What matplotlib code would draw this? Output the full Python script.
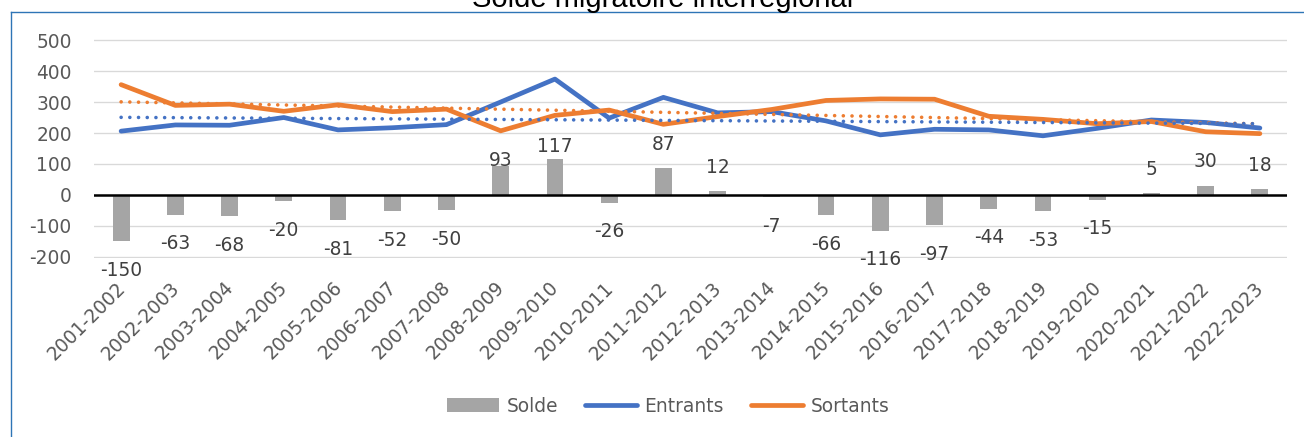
import matplotlib
matplotlib.use("Agg")
import matplotlib.pyplot as plt
import matplotlib.transforms as mtransforms
from matplotlib.lines import Line2D
from matplotlib.patches import Patch
import numpy as np

plt.rcParams['font.family'] = ['DejaVu Sans']

title = "Solde migratoire interrégional"
categories = ["2001-2002", "2002-2003", "2003-2004", "2004-2005", "2005-2006",
              "2006-2007", "2007-2008", "2008-2009", "2009-2010", "2010-2011",
              "2011-2012", "2012-2013", "2013-2014", "2014-2015", "2015-2016",
              "2016-2017", "2017-2018", "2018-2019", "2019-2020", "2020-2021",
              "2021-2022", "2022-2023"]
solde = [-150, -63, -68, -20, -81, -52, -50, 93, 117, -26, 87, 12, -7, -66,
         -116, -97, -44, -53, -15, 5, 30, 18]
entrants = [206, 226, 225, 250, 210, 217, 227, 300, 374, 248, 315, 265, 269,
            239, 194, 212, 210, 191, 215, 242, 234, 216]
sortants = [356, 289, 293, 270, 291, 269, 277, 207, 257, 274, 228, 253, 276,
            305, 310, 309, 254, 244, 230, 237, 204, 198]
yticks = [-200, -100, 0, 100, 200, 300, 400, 500]
legend_labels = ["Solde", "Entrants", "Sortants"]

# label shifts (points) for manually placed labels in the original
label_shift = {"2008-2009": -13.3, "2009-2010": -8.3}

GREY = "#A5A5A5"
BLUE = "#4472C4"
ORANGE = "#ED7D31"
TXT = "#595959"
FS = 13.4

W, H = 1304, 437
fig = plt.figure(figsize=(W / 100, H / 100), dpi=100)
ax = fig.add_axes([94 / W, (H - 257.6) / H, (1287 - 94) / W, (257.6 - 39.4) / H])

x = np.arange(len(categories))

ax.bar(x, solde, width=0.31, color=GREY, zorder=2)
ax.axhline(0, color="black", lw=1.8, zorder=2.5)
ax.plot(x, entrants, color=BLUE, lw=3.4, solid_capstyle="round",
        solid_joinstyle="round", zorder=3)
ax.plot(x, sortants, color=ORANGE, lw=3.4, solid_capstyle="round",
        solid_joinstyle="round", zorder=3)

for series, col in ((sortants, ORANGE), (entrants, BLUE)):
    coef = np.polyfit(x, series, 1)
    ax.plot(x, np.polyval(coef, x), color=col, lw=2.6,
            linestyle=(0, (0.01, 2.4)), dash_capstyle="round", zorder=4)

for xi, v, cat in zip(x, solde, categories):
    shift = label_shift.get(cat, 0)
    if v >= 0:
        ax.annotate(str(v), (xi, v), xytext=(0, 13.3 + shift),
                    textcoords="offset points", ha="center", va="baseline",
                    fontsize=FS, color="#404040", zorder=5)
    else:
        ax.annotate(str(v), (xi, v), xytext=(0, -14),
                    textcoords="offset points", ha="center", va="top",
                    fontsize=FS, color="#404040", zorder=5)

ax.set_xlim(-0.5, len(categories) - 0.5)
ax.set_ylim(-202, 502)
ax.set_yticks(yticks)
ax.set_yticklabels([str(t) for t in yticks])
ax.yaxis.grid(True, color="#D9D9D9", lw=0.95)
ax.set_axisbelow(True)
for s in ax.spines.values():
    s.set_visible(False)

ax.tick_params(axis="y", length=0, pad=16, labelsize=FS, labelcolor=TXT)
ax.tick_params(axis="x", length=0, pad=19.6, labelsize=FS, labelcolor=TXT)
ax.set_xticks(x)
ax.set_xticklabels(categories, rotation=45, ha="right", va="center",
                   rotation_mode="anchor")
offset = mtransforms.ScaledTranslation(0.01, 0, fig.dpi_scale_trans)
for lab in ax.get_xticklabels():
    lab.set_transform(lab.get_transform() + offset)

fig.text(663 / W, 1 - 7.3 / H, title, ha="center", va="baseline",
         fontsize=21, family="Liberation Sans", color="black")

border = "#2E75B6"
fig.add_artist(Line2D([10.5 / W, 1], [1 - 11.7 / H] * 2,
                      transform=fig.transFigure, color=border, lw=1.0))
fig.add_artist(Line2D([10.8 / W] * 2, [0, 1 - 11.7 / H],
                      transform=fig.transFigure, color=border, lw=1.0))

handles = [Patch(facecolor=GREY, edgecolor="none"),
           Line2D([], [], color=BLUE, lw=3.4, solid_capstyle="round"),
           Line2D([], [], color=ORANGE, lw=3.4, solid_capstyle="round")]
fig.legend(handles, legend_labels, loc="center",
           bbox_to_anchor=(668 / W, 1 - 406 / H), ncol=3, frameon=False,
           fontsize=FS, labelcolor=TXT, handlelength=2.8, handleheight=0.7,
           handletextpad=0.4, columnspacing=1.45, borderpad=0,
           borderaxespad=0)

fig.savefig("out.png", dpi=100)
